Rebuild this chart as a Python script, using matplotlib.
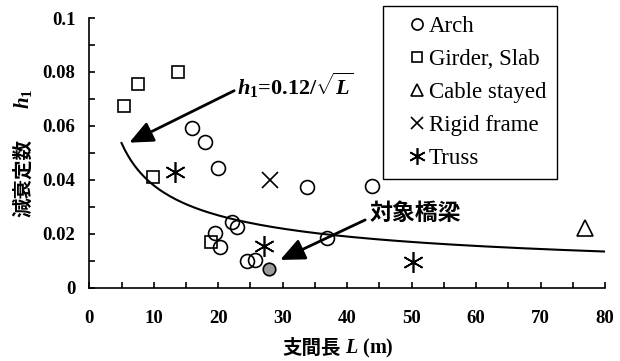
import numpy as np
import matplotlib
matplotlib.use('Agg')
import matplotlib.pyplot as plt
from matplotlib.lines import Line2D
from matplotlib.ticker import MultipleLocator

plt.rcParams['font.family'] = ['Liberation Serif', 'Noto Sans CJK JP']
plt.rcParams['font.weight'] = 'bold'
plt.rcParams['mathtext.fontset'] = 'custom'
plt.rcParams['mathtext.it'] = 'Liberation Serif:italic:bold'
plt.rcParams['mathtext.rm'] = 'Liberation Serif:bold'
plt.rcParams['mathtext.bf'] = 'Liberation Serif:bold'

# 支間長 L (m) と減衰定数 h1
arch_L = [15.9, 18.0, 20.0, 19.5, 20.2, 22.2, 22.9, 24.5, 25.7, 33.8, 36.8, 43.8]
arch_h = [0.0594, 0.054, 0.0444, 0.0202, 0.0152, 0.0245, 0.0225, 0.0099, 0.0103, 0.0375, 0.0183, 0.0377]

girder_L = [5.4, 7.5, 13.7, 9.9, 18.8]
girder_h = [0.0675, 0.0757, 0.080, 0.041, 0.0168]

cable_L = [76.9]
cable_h = [0.022]

rigid_L = [28.0]
rigid_h = [0.040]

truss_L = [13.3, 27.1, 50.2]
truss_h = [0.043, 0.0155, 0.0097]

target_L = [27.9]
target_h = [0.0068]

# 提案式 h1 = 0.12/√L
coef = 0.12
curve_L = np.arange(5, 80.5, 0.5)
curve_h = coef / np.sqrt(curve_L)

fig = plt.figure(figsize=(6.2, 3.61), dpi=100)
ax = fig.add_axes([0.144, 0.203, 0.832, 0.747])

ax.plot(curve_L, curve_h, color='black', lw=1.5)

ms_kw = dict(linestyle='none', markerfacecolor='none', markeredgecolor='black', markeredgewidth=1.2)
ax.plot(arch_L, arch_h, marker='o', markersize=10, **ms_kw)
ax.plot(girder_L, girder_h, marker='s', markersize=8, **ms_kw)
ax.plot(cable_L, cable_h, marker='^', markersize=11, **ms_kw)
ax.plot(rigid_L, rigid_h, marker='x', markersize=11, **ms_kw)
ax.plot(truss_L, truss_h, marker=(6, 2, 0), markersize=15, **ms_kw)
ax.plot(target_L, target_h, marker='o', markersize=9, linestyle='none',
        markerfacecolor='#9a9a9a', markeredgecolor='black', markeredgewidth=1.2)

ax.set_xlim(0, 80)
ax.set_ylim(0, 0.1)
ax.xaxis.set_major_locator(MultipleLocator(10))
ax.xaxis.set_minor_locator(MultipleLocator(5))
ax.yaxis.set_major_locator(MultipleLocator(0.02))
ax.yaxis.set_minor_locator(MultipleLocator(0.01))


def yfmt(v, pos):
    if v == 0:
        return '0'
    if abs(v - 0.1) < 1e-9:
        return '0.1'
    return '%.2f' % v


ax.yaxis.set_major_formatter(plt.FuncFormatter(yfmt))
ax.tick_params(which='both', direction='in', length=4, width=1.2, labelsize=13.5)
ax.tick_params(axis='x', pad=16)
ax.tick_params(axis='y', pad=10)
for s in ['top', 'right']:
    ax.spines[s].set_visible(False)
for s in ['left', 'bottom']:
    ax.spines[s].set_linewidth(1.2)

# 軸ラベル（和文と記号を並べる）
cjk = ['Noto Sans CJK JP']
t = fig.text(282 / 620, 1 - 348 / 361, '支間長', family=cjk, fontsize=14,
             ha='left', va='center')
t = ax.annotate(' $L$ (m)', xy=(1, 0.5), xycoords=t, fontsize=14.5,
                ha='left', va='center')

t = fig.text(23.5 / 620, 1 - 217 / 361, '減衰定数', family=cjk, fontsize=14,
             rotation=90, ha='center', va='bottom')
ax.annotate('$h_1$', xy=(0.5, 1), xycoords=t, xytext=(0, 30), textcoords='offset pixels',
            fontsize=15, rotation=90, ha='center', va='bottom')

arrow_kw = dict(arrowstyle='-|>,head_length=0.9,head_width=0.4', color='black', lw=2,
                shrinkA=0, shrinkB=0)
ax.annotate('$h_1$=0.12/$\\sqrt{L}$', xy=(6.2, 0.0538), xytext=(22.9, 0.0752),
            fontsize=16, va='center', ha='left',
            arrowprops=dict(relpos=(0, 0.35), **arrow_kw))
ax.annotate('対象橋梁', xy=(29.6, 0.0103), xytext=(43.5, 0.0277),
            fontsize=16.5, va='center', ha='left', family=cjk,
            arrowprops=dict(relpos=(-0.05, 0.2), **arrow_kw))

handles = [
    Line2D([], [], marker='o', markersize=8, **ms_kw),
    Line2D([], [], marker='s', markersize=7, **ms_kw),
    Line2D([], [], marker='^', markersize=9, **ms_kw),
    Line2D([], [], marker='x', markersize=9, **ms_kw),
    Line2D([], [], marker=(6, 2, 0), markersize=12, **ms_kw),
]
labels = ['Arch', 'Girder, Slab', 'Cable stayed', 'Rigid frame', 'Truss']
leg = ax.legend(handles, labels, loc='upper left', bbox_to_anchor=(383 / 620, 1 - 6 / 361),
                bbox_transform=fig.transFigure, fancybox=False, edgecolor='black',
                framealpha=1, handlelength=2.1, handletextpad=-0.55, labelspacing=0.52,
                borderpad=0.45, borderaxespad=0,
                prop={'family': 'Liberation Serif', 'weight': 'normal', 'size': 16.5})
leg.get_frame().set_linewidth(1.0)

fig.savefig('out.png', dpi=100)
